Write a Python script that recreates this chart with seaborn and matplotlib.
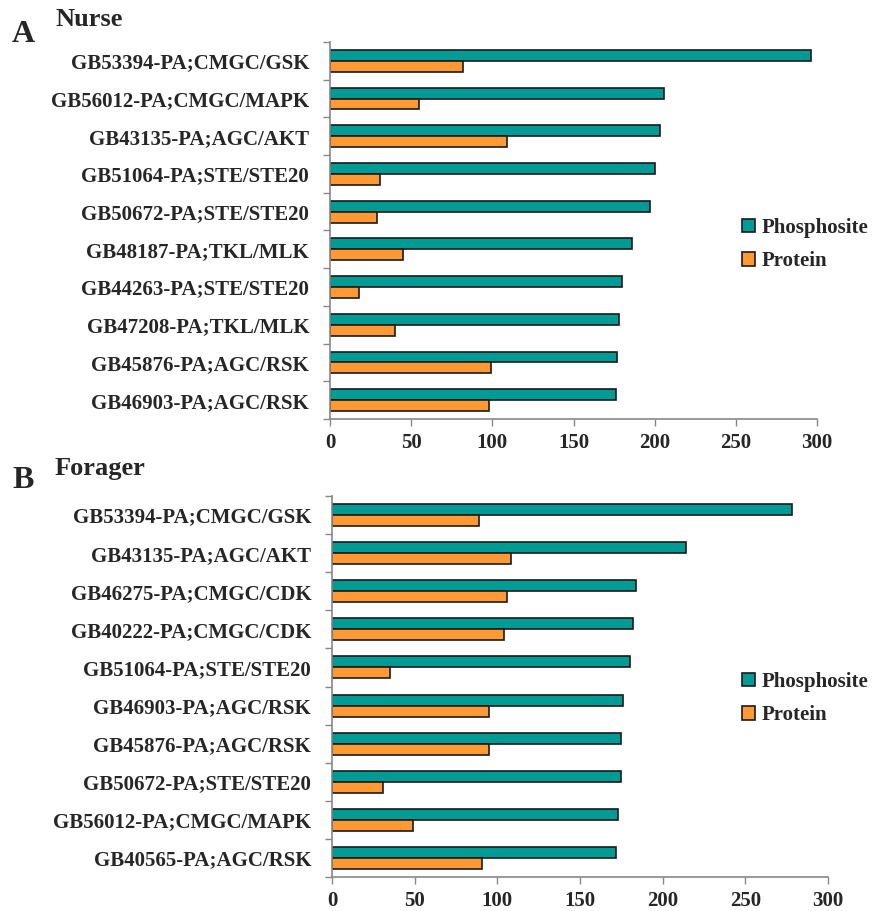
import matplotlib
matplotlib.use("Agg")
import matplotlib.pyplot as plt
import seaborn as sns
import pandas as pd
import numpy as np
from matplotlib.patches import Patch

nurse_labels = ["GB53394-PA;CMGC/GSK", "GB56012-PA;CMGC/MAPK", "GB43135-PA;AGC/AKT",
                "GB51064-PA;STE/STE20", "GB50672-PA;STE/STE20", "GB48187-PA;TKL/MLK",
                "GB44263-PA;STE/STE20", "GB47208-PA;TKL/MLK", "GB45876-PA;AGC/RSK",
                "GB46903-PA;AGC/RSK"]
nurse_phospho = [296, 206, 203, 200, 197, 186, 180, 178, 177, 176]
nurse_protein = [82, 55, 109, 31, 29, 45, 18, 40, 99, 98]

forager_labels = ["GB53394-PA;CMGC/GSK", "GB43135-PA;AGC/AKT", "GB46275-PA;CMGC/CDK",
                  "GB40222-PA;CMGC/CDK", "GB51064-PA;STE/STE20", "GB46903-PA;AGC/RSK",
                  "GB45876-PA;AGC/RSK", "GB50672-PA;STE/STE20", "GB56012-PA;CMGC/MAPK",
                  "GB40565-PA;AGC/RSK"]
forager_phospho = [278, 214, 184, 182, 180, 176, 175, 175, 173, 172]
forager_protein = [89, 108, 106, 104, 35, 95, 95, 31, 49, 91]

series_names = ["Phosphosite", "Protein"]
colors = ["#009B95", "#FF9933"]
xticks = [0, 50, 100, 150, 200, 250, 300]

sns.set_style("white")
plt.rcParams["font.family"] = ["Liberation Serif", "DejaVu Serif"]
plt.rcParams["font.weight"] = "bold"

fig = plt.figure(figsize=(8.73, 9.11), dpi=100)
W, H = 873, 911

def ax_at(l, t, r, b):
    return fig.add_axes([l / W, 1 - b / H, (r - l) / W, (b - t) / H])

def panel(ax, labels, phos, prot, leg_y):
    df = pd.DataFrame({
        "label": labels * 2,
        "value": list(phos) + list(prot),
        "type": [series_names[0]] * len(labels) + [series_names[1]] * len(labels),
    })
    sns.barplot(data=df, y="label", x="value", hue="type", hue_order=series_names,
                order=labels, palette=colors, orient="h", width=0.58,
                edgecolor="#1a1a1a", linewidth=1.2, saturation=1, ax=ax, legend=False)
    ax.set_xlim(0, 300)
    ax.set_ylim(len(labels) - 0.5, -0.5)
    ax.set_xticks(xticks)
    ax.set_xticklabels([str(t) for t in xticks], fontsize=15, fontweight="bold")
    ax.set_yticks(range(len(labels)))
    ax.set_yticklabels(labels, fontsize=15, fontweight="bold")
    ax.set_yticks(np.arange(-0.5, len(labels), 1), minor=True)
    ax.tick_params(axis="y", which="major", length=0, pad=15)
    ax.tick_params(axis="y", which="minor", length=5, color="#888888", width=1, direction="out", left=True)
    ax.tick_params(axis="x", which="major", length=5, color="#888888", width=1, direction="out", pad=5, bottom=True)
    ax.set_xlabel("")
    ax.set_ylabel("")
    for s in ["top", "right"]:
        ax.spines[s].set_visible(False)
    for s in ["left", "bottom"]:
        ax.spines[s].set_color("#888888")
        ax.spines[s].set_linewidth(1.2)
    handles = [Patch(facecolor=c, edgecolor="#1a1a1a", linewidth=1.2) for c in colors]
    fig.legend(handles, series_names, loc="upper left",
               bbox_to_anchor=(742 / W, 1 - leg_y / H), frameon=False, borderpad=0,
               borderaxespad=0,
               prop={"family": ["Liberation Serif"], "weight": "bold", "size": 15},
               handlelength=0.62, handleheight=0.62, handletextpad=0.3, labelspacing=0.63)

axA = ax_at(330, 42, 817, 419)
panel(axA, nurse_labels, nurse_phospho, nurse_protein, 218)
axB = ax_at(332, 496, 828, 877)
panel(axB, forager_labels, forager_phospho, forager_protein, 672)

fig.text(12 / W, 1 - 42 / H, "A", fontsize=23, fontweight="bold", va="baseline")
fig.text(55 / W, 1 - 26 / H, "Nurse", fontsize=19, fontweight="bold", va="baseline")
fig.text(12 / W, 1 - 488 / H, "B", fontsize=23, fontweight="bold", va="baseline")
fig.text(55 / W, 1 - 475 / H, "Forager", fontsize=19, fontweight="bold", va="baseline")

fig.savefig("out.png", dpi=100)
